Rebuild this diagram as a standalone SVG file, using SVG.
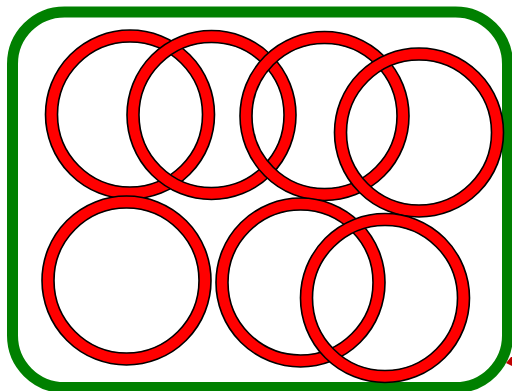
<svg xmlns="http://www.w3.org/2000/svg" width="512" height="391" viewBox="0 0 512 391">
<style>
.frame{fill:none;stroke:#008000;stroke-width:11}
.ring{fill:#ff0000;fill-rule:evenodd;stroke:#000;stroke-width:1.6}
.tip{fill:#c00000}
</style>
<defs>
<path id="ringShape" d="M-84.5,0 a84.5,84.5 0 1,0 169,0 a84.5,84.5 0 1,0 -169,0 Z M-72.5,0 a72.5,72.5 0 1,0 145,0 a72.5,72.5 0 1,0 -145,0 Z"/>
</defs>
<rect id="frame" class="frame" x="12.5" y="12" width="495" height="375.5" rx="52" ry="52"/>
<g id="ring1"><use href="#ringShape" class="ring" x="130" y="114.5"/></g>
<g id="ring2"><use href="#ringShape" class="ring" x="211.5" y="115"/></g>
<g id="ring3"><use href="#ringShape" class="ring" x="324.5" y="116"/></g>
<g id="ring4"><use href="#ringShape" class="ring" x="419" y="132.5"/></g>
<g id="ring5"><use href="#ringShape" class="ring" x="126.5" y="280.5"/></g>
<g id="ring6"><use href="#ringShape" class="ring" x="300.5" y="282.5"/></g>
<g id="ring7"><use href="#ringShape" class="ring" x="385" y="298"/></g>
<g id="connectors"><polygon class="tip" points="506,363 511,357 512,357 512,366"/></g>
</svg>
